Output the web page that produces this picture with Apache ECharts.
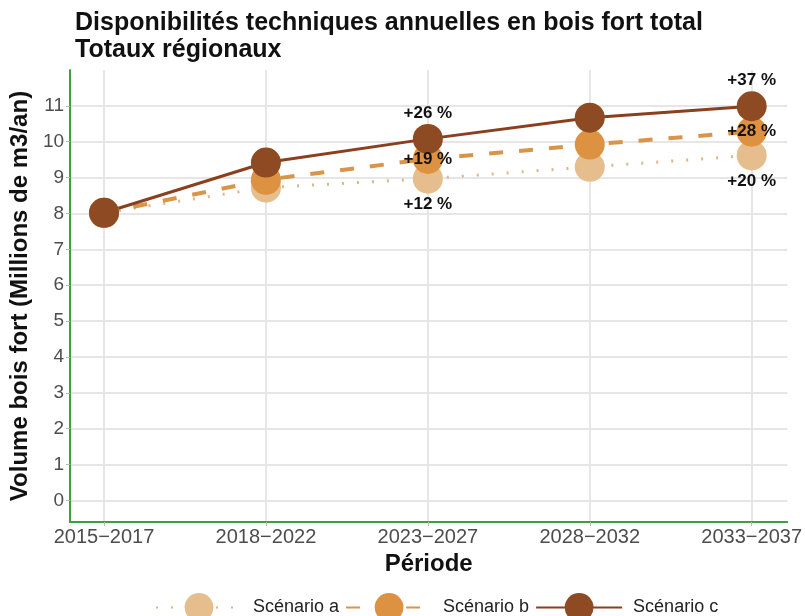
<!DOCTYPE html>
<html>
<head>
<meta charset="utf-8">
<script src="https://cdn.jsdelivr.net/npm/echarts@6/dist/echarts.min.js"></script>
<style>
  html, body { margin: 0; padding: 0; background: #fff; }
  #chart { width: 805px; height: 616px; }
</style>
</head>
<body>
<div id="chart"></div>
<script>
// Periods on the horizontal axis
const periods = ['2015\u22122017', '2018\u22122022', '2023\u22122027', '2028\u22122032', '2033\u22122037'];
// Annual technical availability (millions m3/yr) per scenario
const scenarioA = [8.02, 8.72, 8.97, 9.30, 9.62];
const scenarioB = [8.02, 8.94, 9.52, 9.92, 10.28];
const scenarioC = [8.02, 9.42, 10.08, 10.67, 10.99];
// Y-axis tick values
const yTicks = [0, 1, 2, 3, 4, 5, 6, 7, 8, 9, 10, 11];
// Periods that carry a growth label
const labelledPeriods = [2, 4];

const FONT = '"Liberation Sans", Arial, sans-serif';
const periodIdx = periods.map((p, i) => i);

function growthLabel(values, idx) {
  const pct = Math.round((values[idx] / values[0] - 1) * 100);
  return '+' + pct + ' %';
}

function buildSeries(name, values, color, lineColor, lineType, lineWidth, labelPos, labelDist) {
  return {
    name: name,
    type: 'line',
    data: values.map((v, i) => {
      const item = { value: [i, v] };
      if (labelledPeriods.includes(i)) {
        item.label = {
          show: true,
          position: labelPos,
          distance: labelDist,
          formatter: growthLabel(values, i),
          color: '#111',
          fontFamily: FONT,
          fontWeight: 'bold',
          fontSize: 17
        };
      }
      return item;
    }),
    symbol: 'circle',
    symbolSize: 30,
    itemStyle: { color: color, opacity: 1 },
    lineStyle: { color: lineColor, type: lineType, width: lineWidth },
    label: { show: false },
    emphasis: { disabled: true },
    animation: false
  };
}

const chart = echarts.init(document.getElementById('chart'), null, { renderer: 'canvas' });

chart.setOption({
  backgroundColor: '#ffffff',
  title: {
    text: 'Disponibilités techniques annuelles en bois fort total\nTotaux régionaux',
    left: 70,
    top: 5,
    textStyle: {
      fontFamily: FONT,
      fontWeight: 'bold',
      fontSize: 25,
      lineHeight: 27,
      color: '#111'
    }
  },
  grid: { left: 70, right: 15, top: 70, bottom: 94, containLabel: false },
  xAxis: {
    type: 'value',
    min: -0.21,
    max: 4.22,
    name: 'Période',
    nameLocation: 'middle',
    nameGap: 29,
    nameTextStyle: { fontFamily: FONT, fontWeight: 'bold', fontSize: 24, color: '#111' },
    axisLine: { show: true, onZero: false, lineStyle: { color: '#3f9f3f', width: 2 } },
    axisTick: { show: true, customValues: periodIdx, length: 4, lineStyle: { color: '#bbbbbb', width: 1 } },
    axisLabel: {
      customValues: periodIdx,
      formatter: (v) => periods[Math.round(v)],
      fontFamily: FONT,
      fontSize: 20,
      color: '#4d4d4d',
      margin: 5
    },
    splitLine: { show: true, lineStyle: { color: '#e6e6e6', width: 2 } }
  },
  yAxis: {
    type: 'value',
    min: -0.6,
    max: 12,
    name: 'Volume bois fort (Millions de m3/an)',
    nameLocation: 'middle',
    nameGap: 24,
    nameRotate: 90,
    nameTextStyle: { fontFamily: FONT, fontWeight: 'bold', fontSize: 24, color: '#111' },
    axisLine: { show: true, onZero: false, lineStyle: { color: '#3f9f3f', width: 2 } },
    axisTick: { show: true, customValues: yTicks, length: 4, lineStyle: { color: '#bbbbbb', width: 1 } },
    axisLabel: {
      customValues: yTicks,
      fontFamily: FONT,
      fontSize: 19,
      color: '#4d4d4d',
      margin: 6
    },
    splitLine: { show: true, lineStyle: { color: '#e6e6e6', width: 2 } }
  },
  legend: {
    top: 588,
    left: 150,
    itemWidth: 86,
    itemHeight: 36,
    itemGap: 6,
    textStyle: { fontFamily: FONT, fontSize: 18, color: '#222', padding: [0, 0, 0, 6] },
    data: ['Scénario a', 'Scénario b', 'Scénario c']
  },
  series: [
    buildSeries('Scénario a', scenarioA, '#e6be8e', '#ddb68a', [2, 13], 3, 'bottom', 2),
    buildSeries('Scénario b', scenarioB, '#dc9241', '#d8954a', [14, 16], 4, 'inside', 0),
    buildSeries('Scénario c', scenarioC, '#8e4a22', '#8a3f1f', 'solid', 3, 'top', 2)
  ]
});
</script>
</body>
</html>
